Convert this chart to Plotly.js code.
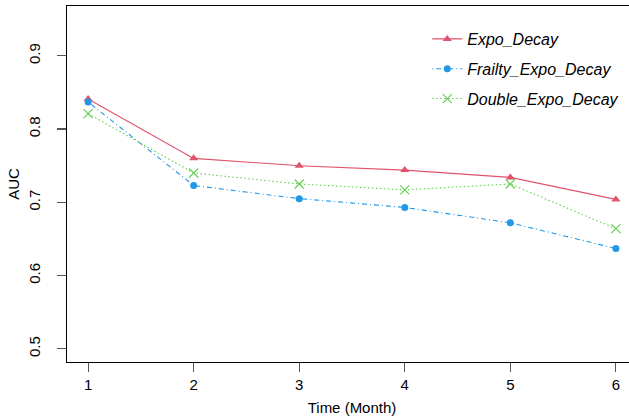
<!DOCTYPE html>
<html><head><meta charset="utf-8">
<script src="https://cdn.plot.ly/plotly-3.0.1.min.js"></script>
<style>html,body{margin:0;padding:0;overflow:hidden;background:#fff;width:629px;height:420px}</style>
</head><body>
<div id="chart" style="width:640px;height:420px"></div>
<script>
const months = [1, 2, 3, 4, 5, 6];
const expoDecay = [0.841, 0.760, 0.750, 0.744, 0.734, 0.704];
const frailtyExpoDecay = [0.837, 0.723, 0.705, 0.693, 0.672, 0.637];
const doubleExpoDecay = [0.821, 0.740, 0.725, 0.717, 0.725, 0.664];
const seriesNames = ['Expo_Decay', 'Frailty_Expo_Decay', 'Double_Expo_Decay'];
const yTicks = [0.5, 0.6, 0.7, 0.8, 0.9];

const font = 'Liberation Sans, Arial, sans-serif';
const traces = [
  {x: months, y: expoDecay, name: '<i>' + seriesNames[0] + '</i>', legendgroup: 'a',
   mode: 'lines+markers', line: {color: '#DF536B', width: 1.1, dash: 'solid'},
   marker: {symbol: 'triangle-up', size: 8, color: '#DF536B'}},
  {x: months, y: frailtyExpoDecay, name: '<i>' + seriesNames[1] + '</i>', legendgroup: 'b',
   mode: 'lines+markers', line: {color: '#2297E6', width: 1.1, dash: '1px,3px,5px,3px'},
   marker: {symbol: 'circle', size: 7, color: '#2297E6'}},
  {x: months, y: doubleExpoDecay, name: '<i>' + seriesNames[2] + '</i>', legendgroup: 'c',
   mode: 'lines+markers', line: {color: '#61D04F', width: 1.1, dash: '1.5px,2.5px'},
   marker: {symbol: 'x-thin-open', size: 9, color: '#61D04F', line: {width: 1.1, color: '#61D04F'}}}
];
const layout = {
  width: 640, height: 420,
  margin: {l: 67, r: 3, t: 6, b: 58},
  paper_bgcolor: '#fff', plot_bgcolor: '#fff',
  font: {family: font, size: 15, color: '#000'},
  showlegend: true,
  legend: {x: 0.632, y: 0.955, xanchor: 'left', yanchor: 'top', bgcolor: 'rgba(0,0,0,0)',
           font: {family: font, size: 16, color: '#000'}, traceorder: 'grouped', tracegroupgap: 6},
  xaxis: {range: [0.8, 6.2], tickvals: months, ticktext: months.map(String),
          showgrid: false, zeroline: false, showline: true, mirror: true, linecolor: '#000', linewidth: 1.2,
          ticks: 'outside', ticklen: 9, tickcolor: '#555', tickwidth: 1.2,
          tickfont: {family: font, size: 15, color: '#000'},
          title: {text: 'Time (Month)', font: {family: font, size: 15, color: '#000'}, standoff: 10}},
  yaxis: {range: [0.482, 0.968], tickvals: yTicks, ticktext: yTicks.map(v => v.toFixed(1)),
          showgrid: false, zeroline: false, showline: true, mirror: true, linecolor: '#000', linewidth: 1.2,
          ticks: 'outside', ticklen: 9, tickcolor: '#555', tickwidth: 1.2, tickangle: -90,
          ticklabelstandoff: 11,
          tickfont: {family: font, size: 15, color: '#000'},
          title: {text: 'AUC', font: {family: font, size: 15, color: '#000'}, standoff: 2}}
};
Plotly.newPlot('chart', traces, layout, {displayModeBar: false, staticPlot: true});
</script>
</body></html>
